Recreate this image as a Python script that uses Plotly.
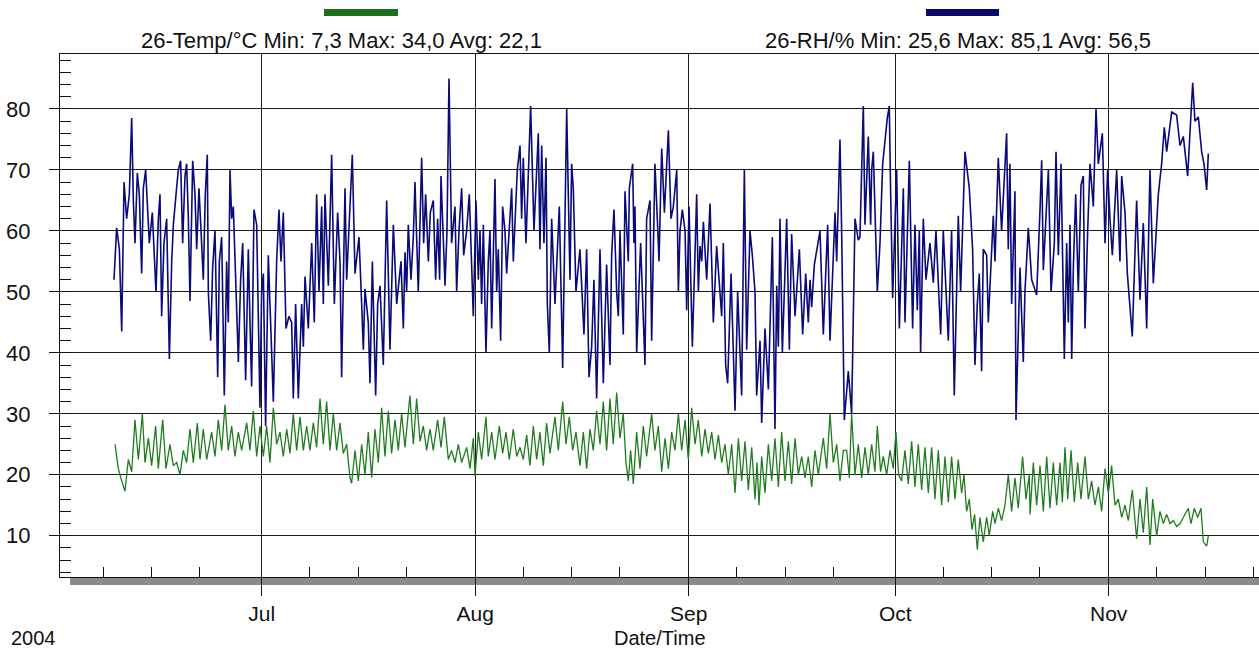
import numpy as np
import pandas as pd
import plotly.graph_objects as go

# ---------------- data ----------------
# time = days since 2004-07-01 00:00
rh_day = [-21.45, -21.06, -20.67, -20.33, -19.99, -19.61, -19.22, -18.88, -18.64, -18.40,
          -18.06, -17.77, -17.43, -17.19, -16.85, -16.56, -16.32, -15.88, -15.59, -15.35,
          -15.01, -14.77, -14.53, -14.19, -13.80, -13.41, -13.07, -12.83, -12.44, -12.11,
          -11.77, -11.48, -11.14, -10.90, -10.65, -10.41, -10.02, -9.69, -9.44, -9.11,
          -8.81, -8.48, -8.19, -7.90, -7.75, -7.41, -7.12, -6.78, -6.39, -6.15,
          -5.81, -5.43, -5.09, -4.85, -4.60, -4.36, -4.12, -3.64, -3.39, -3.06,
          -2.76, -2.33, -1.94, -1.70, -1.46, -1.12, -0.73, -0.25, -0.01, 0.24,
          0.57, 0.96, 1.30, 1.69, 2.17, 2.51, 2.80, 3.14, 3.53,
          3.96, 4.35, 4.59, 4.93, 5.32, 5.80, 6.05, 6.29, 6.77, 7.26, 7.64, 7.98,
          8.32, 8.71, 8.95, 9.19, 9.68, 10.16, 10.55, 11.03, 11.37, 11.61, 12.10,
          12.34, 12.82, 13.16, 13.55, 14.13, 14.52, 14.76, 15.00, 15.48, 15.73,
          16.07, 16.55, 16.84, 17.18, 17.66, 18.15, 18.63, 19.12, 19.60, 20.23,
          20.57, 20.81, 21.05, 21.29, 21.68, 22.02, 22.26, 22.74, 23.23, 23.52,
          23.81, 24.20, 24.49, 24.92, 25.26, 25.55, 25.84, 26.04, 26.62, 26.91,
          27.20, 27.58, 28.07, 28.31, 28.65, 29.04, 29.33, 29.76, 30.15, 30.73,
          31.12, 31.46, 31.70, 31.94, 32.19, 32.57, 32.91, 33.15, 33.40, 33.88,
          34.12, 34.36, 34.70, 34.99, 35.33, 35.57, 36.06, 36.30, 36.54, 37.12,
          37.51, 37.75, 37.99, 38.38, 39.06, 39.54, 40.17, 40.41, 40.66, 40.99,
          41.29, 41.48, 41.77, 42.11, 42.59, 43.22, 43.71, 44.04, 44.29, 44.77,
          45.01, 45.25, 45.64, 46.22, 46.80, 47.19, 47.53, 47.92, 48.25, 48.64,
          49.13, 49.61, 50.09, 50.58, 50.82, 51.16, 51.55, 51.79, 52.03, 52.51,
          52.76, 53.24, 53.39, 53.87, 54.06, 54.21, 54.45, 55.03, 55.42, 55.66,
          55.90, 56.39, 56.63, 57.11, 57.60,
          57.70, 58.09, 58.48, 59.06, 59.44, 59.78, 60.27, 60.51, 60.75, 61.09,
          61.48, 61.72, 62.06, 62.54, 63.17, 63.41, 63.65, 63.90, 64.14, 64.62,
          65.11, 65.59, 66.07, 66.80, 67.04, 67.38, 67.67, 68.16, 68.74, 69.12,
          69.70, 70.09, 70.43, 70.91, 71.25, 71.64, 71.88, 72.37, 72.61, 73.09,
          73.58, 74.16, 74.54, 74.79, 75.03, 75.27, 75.61, 76.24, 76.63, 76.96,
          77.45, 78.08, 78.56, 79.00, 79.38, 79.63, 79.87, 80.26, 81.08, 81.56,
          82.19, 82.53, 83.26, 83.50, 83.98, 84.22, 84.61,
          85.19, 85.67, 86.16, 86.64, 86.88, 87.13, 87.37, 87.61, 88.09, 88.43,
          88.58, 88.82, 89.40, 89.79, 90.18, 90.85, 91.14, 91.34, 91.63, 92.21,
          92.60, 93.18, 93.42, 94.05, 94.53, 94.87, 95.21, 95.50, 95.69, 96.08,
          96.47, 97.05, 97.53, 97.92, 98.60, 98.98, 99.71, 100.19, 100.58, 101.16,
          101.50, 102.13, 102.76, 103.24, 103.58, 103.92, 104.21, 104.55, 104.79, 105.28,
          105.52, 106.24, 106.49, 106.97, 107.45, 108.18, 108.42, 108.66, 108.91, 109.39,
          109.54, 110.12, 110.60, 110.84, 111.33,
          111.82, 112.54, 113.03, 113.27, 113.51, 114.24, 114.63, 115.11, 115.35, 115.69,
          116.08, 116.56, 116.90, 117.14, 117.38, 117.63, 117.87, 118.21, 118.59, 118.98,
          119.32, 119.56, 119.95, 120.29, 120.77, 121.16, 121.50, 122.08, 122.47, 122.85,
          123.19, 123.53, 124.16, 124.64, 124.89, 125.37, 125.71, 126.43, 127.06, 127.55,
          128.03, 128.52, 129.00, 129.48, 130.21, 130.69, 131.08, 131.42, 132.15, 132.87,
          133.36, 133.84, 134.47, 134.81, 135.20, 135.53, 136.02, 136.50, 136.84, 137.23,
          137.47]
rh_val = [52, 60.5, 57, 43.5, 68, 62, 66, 78.5, 65, 58,
          69.5, 66, 53, 67, 70, 62, 58, 63, 55, 50,
          62, 66, 46, 58, 62, 39, 55, 61, 66, 70,
          71.5, 58, 69, 71, 62, 48.5, 71.5, 66, 57, 67,
          60, 52, 66, 72.5, 50, 42, 54, 60, 36, 55,
          59, 33, 55, 45, 70, 62, 64, 48, 38.5, 52,
          58, 35.5, 57, 45, 34.5, 63.5, 61, 31, 50, 53,
          28, 56, 45, 32, 55, 63.5, 55, 63, 44,
          46, 45, 32.5, 48, 32.5, 48, 41, 52.5, 44, 58, 45, 66,
          50, 64, 48, 66, 51, 72.5, 48, 63, 55, 36, 67,
          52, 65, 72.5, 53, 59, 48, 40.5, 50.5, 45, 35,
          55, 33, 48, 51, 38, 65, 40.5, 61, 48, 55,
          44, 56.5, 50, 61, 52, 59, 68, 50, 72, 58,
          66, 55, 63, 65, 52, 62, 52, 69, 51, 60,
          85, 58, 64, 50, 60, 67, 56, 60, 66, 46,
          65, 52, 60, 48, 61, 40, 55, 60, 44, 68.5,
          50, 57, 42, 64, 60, 53, 62, 67, 55, 70,
          74, 62, 72, 58, 80.5, 60, 76, 57, 74, 58,
          72, 48, 40, 62, 48, 64, 37.5, 62, 80, 52,
          71, 67, 50, 57, 43, 57, 36, 41, 52, 32.5,
          57, 35, 54.5, 38, 56, 63.5, 50, 46, 60, 43,
          66.5, 55, 67, 71, 58, 64, 40, 58, 45, 38,
          62, 65, 42, 71, 58,
          55, 73.5, 63, 76.5, 62, 64, 70, 50, 60, 63.5,
          60, 47, 64, 41, 66, 50, 57.5, 55, 61.5, 52,
          64.5, 45, 57.5, 46, 58, 38, 35, 53, 30.5, 50,
          33, 70, 40.5, 60, 56, 50, 33, 42, 28.5, 44,
          34, 59, 27.5, 51, 41, 62, 40, 62, 40.5, 59.5,
          46, 57, 43, 53, 45, 52, 47.5, 54.5, 60, 43,
          61, 42, 63, 55, 75, 60, 29,
          37, 30, 62, 58.5, 59, 72, 80.5, 61, 75.5, 61,
          70, 73, 50, 58, 71, 78.5, 80.5, 66, 49, 70,
          44, 67, 45, 71.5, 44, 61, 47, 60, 40, 62,
          52, 58, 51.5, 60, 43, 60, 42, 60, 33, 62.5,
          50, 73, 67, 57, 38, 48, 53, 37, 57, 56,
          45, 62.5, 55, 72, 60, 76, 57, 71, 48, 66.5,
          29, 54, 38.5, 50, 60.5,
          52, 49.5, 63.5, 71.6, 53.6, 70, 50, 58, 73, 56,
          71, 39, 58, 45, 61, 39, 54, 66, 50, 67.5,
          69, 44, 60, 71, 64, 80, 71, 76, 58, 70,
          62, 56, 70, 55, 69, 63, 53, 42.7, 65, 48.7,
          61.3, 44, 70, 51.4, 66, 71, 77, 73, 79.5, 79,
          74, 75.5, 69, 76, 84.3, 78, 78.7, 73, 71, 66.7,
          72.7]

t_day = [-21.30, -20.82, -20.33, -19.85, -19.37, -18.88, -18.40, -17.91, -17.33, -16.95,
         -16.46, -15.98, -15.40, -15.01, -14.38, -13.90, -13.32, -12.83, -12.35, -11.86,
         -11.38, -10.90, -10.41, -9.93, -9.35, -8.96, -8.48, -7.99, -7.27, -6.78,
         -6.30, -5.81, -5.33, -4.85, -4.36, -3.88, -3.39, -2.91, -2.18, -1.70,
         -1.22, -0.73, -0.25, 0.24, 0.72, 1.20, 1.69, 2.17, 2.66, 3.14,
         3.63, 4.11, 4.59, 5.08, 5.56, 6.05, 6.53, 7.01, 7.50, 7.98,
         8.47, 8.95, 9.43, 9.92, 10.40, 10.89, 11.37, 11.85, 12.34, 12.82,
         13.06, 13.55, 14.03, 14.52, 15.00, 15.48, 15.97, 16.45, 16.94, 17.42,
         17.90, 18.39, 18.87, 19.36, 19.84, 20.32, 20.81, 21.53, 22.02, 22.50,
         22.99, 23.47, 23.95, 24.44, 24.92, 25.55, 26.04, 26.52, 27.10, 27.58,
         28.07, 28.55, 29.04, 29.76, 30.25, 30.73,
         30.98, 31.46, 31.94, 32.57, 32.91, 33.40, 33.88, 34.51, 34.99, 35.48,
         35.96, 36.54, 37.03, 37.51, 37.99, 38.48, 38.96, 39.45, 39.93, 40.41,
         40.90, 41.38, 41.87, 42.59, 43.08, 43.71, 44.19, 44.67, 45.16, 45.64,
         46.22, 46.71, 47.19, 47.67, 48.16, 48.64, 49.13, 49.61, 50.09, 50.58,
         51.06, 51.55, 52.03, 52.51, 52.90, 53.24, 53.58, 53.97, 54.45, 54.93,
         55.42, 55.90, 56.63, 57.11, 57.60,
         58.09, 58.57, 59.06, 59.54, 60.02, 60.51, 60.99, 61.48, 61.96, 62.44,
         62.93, 63.41, 63.90, 64.38, 64.86, 65.35, 65.83, 66.32, 66.80, 67.28,
         67.77, 68.25, 68.74, 69.22, 69.70, 70.19, 70.67, 71.16, 71.64, 71.93,
         72.22, 72.61, 73.09, 73.58, 74.06, 74.54, 75.03, 75.51, 76.00, 76.48,
         76.96, 77.45, 77.93, 78.42, 78.90, 79.38, 79.87, 80.35, 80.84, 81.56,
         82.05, 82.53, 83.01, 83.50, 83.98, 84.47,
         84.95, 85.34, 85.67, 86.16, 86.64, 87.13, 87.61, 88.09, 88.58, 89.06,
         89.40, 89.88, 90.27, 90.76, 91.24, 91.72, 92.11, 92.50, 92.93, 93.42,
         93.90, 94.39, 94.87, 95.35, 95.84, 96.32, 96.81, 97.29, 97.77, 98.26,
         98.74, 99.23, 99.71, 100.19, 100.68, 101.16, 101.65, 101.99, 102.37, 102.76,
         103.15, 103.53, 103.92, 104.31, 104.79, 105.28, 105.66, 106.15, 106.49, 106.97,
         107.45, 107.94, 108.42, 108.91, 109.39, 109.87, 110.50, 110.99, 111.47,
         111.58, 112.06, 112.54, 113.03, 113.51, 114.00, 114.48, 114.96, 115.45, 115.93,
         116.27, 116.66, 117.05, 117.53, 118.01, 118.50, 118.98, 119.56, 120.05, 120.53,
         121.01, 121.50, 121.98, 122.47, 122.95, 123.43, 123.92, 124.40, 124.89, 125.37,
         125.85, 126.43, 127.06, 127.55, 128.03, 128.52, 129.00, 129.39, 129.97, 130.45,
         130.94, 131.42, 131.90, 132.39, 132.87, 133.36, 133.84, 134.57, 134.95, 135.44,
         135.92, 136.41, 136.74, 137.23, 137.47]
t_val = [25, 21, 19, 17.3, 22.5, 20.5, 29, 22.5, 30, 22,
         26, 21.5, 28, 21, 29, 21, 25, 21.5, 22, 20,
         24, 22, 27.5, 22, 28.5, 22.5, 27.5, 22.5, 27, 23,
         29, 24, 31.5, 24, 28, 23, 27, 24, 28.5, 24,
         30.5, 23, 28, 23, 28, 22, 31, 25, 27, 23,
         27.5, 23.5, 30, 24, 29.5, 24, 28, 24, 28.5, 24.5,
         32.5, 25, 32, 24, 30, 24, 28.5, 23.5, 25, 19.5,
         18.6, 24, 19, 25, 20, 27, 19.5, 27.5, 22, 31,
         23, 30.5, 23.5, 29, 24, 30, 24.5, 33, 25, 32.5,
         25.5, 28, 24, 27.5, 24, 29, 24.5, 29.5, 22.5, 24,
         22, 25, 22, 24.5, 21, 26,
         19.8, 27, 22.5, 29.5, 23, 27, 22.5, 28, 23.5, 27,
         22.5, 27.5, 23, 24.5, 22.5, 26.5, 21.5, 28, 22.5, 27,
         21.5, 28.5, 23.5, 29.5, 24, 32, 25, 29.5, 24, 27,
         21.5, 27, 21, 27.5, 24, 30.5, 25, 32, 24, 32.5,
         25, 33.5, 26, 30, 22, 19, 24, 18.5, 27, 21,
         28, 23, 30, 24, 28,
         20.5, 26, 21, 27, 24, 30, 24, 29, 22.5, 31,
         25, 29, 23, 27.5, 23.5, 27, 22.5, 26.5, 22, 25,
         20, 25, 17, 26, 19, 25.5, 17.5, 24.5, 16, 22,
         15, 23, 17, 25, 19, 26, 18, 27, 19, 25.5,
         18.5, 26, 20, 23, 19.5, 23, 18, 24, 20, 26,
         21, 30, 22, 25, 19, 24,
         24, 19.5, 30, 20, 25, 19.5, 24.5, 20, 25, 20.5,
         28, 20.5, 23, 20, 24, 21, 27, 20, 19, 24,
         18.5, 25.5, 18, 25, 17.5, 24.5, 17, 24.5, 16, 24,
         15, 23, 15.5, 23, 16, 22.5, 17, 20, 14, 16,
         11, 13.5, 7.7, 13, 9, 13, 10, 14, 12, 14.5,
         12.5, 15, 20, 14, 19.5, 14.5, 23, 16, 20,
         13.5, 22, 15, 21.5, 14, 23, 14.5, 22, 15, 22,
         15.5, 24.5, 16, 24, 15.5, 22, 16, 23, 16, 19,
         15, 18, 14, 21, 17, 21.5, 15, 16, 13, 15,
         12.5, 17.5, 9.5, 16, 10.5, 18, 8.5, 16, 10, 14,
         12, 13.5, 12, 12.5, 11.5, 12, 13, 14.5, 12, 14.5,
         13, 14.5, 9, 8.3, 10]

month_ticks = ["2004-07-01", "2004-08-01", "2004-09-01", "2004-10-01", "2004-11-01"]
month_labels = ["Jul", "Aug", "Sep", "Oct", "Nov"]
week_ticks = [f"2004-{m:02d}-{d:02d}" for m in range(6, 12) for d in (8, 15, 22)]
y_ticks = [10, 20, 30, 40, 50, 60, 70, 80]

temp_label = "26-Temp/°C Min: 7,3 Max: 34,0 Avg: 22,1"
rh_label = "26-RH/% Min: 25,6 Max: 85,1 Avg: 56,5"
year_label = "2004"
x_title = "Date/Time"

# ---------------- figure ----------------
base = pd.Timestamp("2004-07-01")
rh_t = base + pd.to_timedelta(np.array(rh_day), unit="D")
t_t = base + pd.to_timedelta(np.array(t_day), unit="D")

NAVY = "#0a0a78"
GREEN = "#1f7d1f"
FONT = "Liberation Sans, Arial, sans-serif"

W, H = 1259, 651
L, R, T, B = 60, 0, 54, 74
pw, ph = W - L - R, H - T - B


def px(x):
    return (x - L) / pw


def py(y):
    return (H - B - y) / ph


fig = go.Figure()
fig.add_trace(go.Scatter(x=rh_t, y=rh_val, mode="lines",
                         line=dict(color=NAVY, width=1.6), showlegend=False))
fig.add_trace(go.Scatter(x=t_t, y=t_val, mode="lines",
                         line=dict(color=GREEN, width=1.3), showlegend=False))

x0 = base - pd.Timedelta(days=29.29)
x1 = base + pd.Timedelta(days=144.83)

fig.update_layout(
    width=W, height=H, autosize=False,
    margin=dict(l=L, r=R, t=T, b=B, pad=0),
    paper_bgcolor="white", plot_bgcolor="white",
    font=dict(family=FONT, size=22, color="#111111"),
    showlegend=False,
    xaxis=dict(
        type="date", range=[x0, x1],
        tickmode="array", tickvals=month_ticks, ticktext=month_labels,
        ticks="outside", ticklen=18, tickwidth=1, tickcolor="#111111",
        showgrid=True, gridcolor="#1a1a1a", gridwidth=1,
        showline=True, linecolor="#111111", linewidth=1, mirror=True,
        zeroline=False, ticklabelstandoff=0,
        tickfont=dict(family=FONT, size=21, color="#111111"),
        minor=dict(tickmode="array", tickvals=week_ticks, ticks="inside",
                   ticklen=10, tickwidth=1, tickcolor="#111111", showgrid=False),
    ),
    yaxis=dict(
        range=[3.23, 89.02],
        tickmode="array", tickvals=y_ticks,
        ticks="outside", ticklen=10, tickwidth=1, tickcolor="#111111",
        showgrid=True, gridcolor="#1a1a1a", gridwidth=1,
        showline=True, linecolor="#111111", linewidth=1,
        zeroline=False, ticklabelstandoff=14,
        tickfont=dict(family=FONT, size=22, color="#111111"),
        minor=dict(dtick=2, tick0=0, ticks="inside", ticklen=11, tickwidth=1,
                   tickcolor="#111111", showgrid=False),
    ),
)

# 3D shadow band under the time axis
fig.add_shape(type="rect", xref="paper", yref="paper",
              x0=px(70), x1=1.01, y0=py(585), y1=py(577.5),
              fillcolor="#8a8a8a", line=dict(width=0), layer="below")

# legend swatches
fig.add_shape(type="rect", xref="paper", yref="paper",
              x0=px(324), x1=px(398), y0=py(16), y1=py(9),
              fillcolor="#1b6e1b", line=dict(width=0))
fig.add_shape(type="rect", xref="paper", yref="paper",
              x0=px(926), x1=px(999), y0=py(16), y1=py(9),
              fillcolor="#0a0a6e", line=dict(width=0))

for text, xc, yc in [(temp_label, 341, 40), (rh_label, 958, 40)]:
    fig.add_annotation(text=text, xref="paper", yref="paper",
                       x=px(xc), y=py(yc), xanchor="center", yanchor="middle",
                       showarrow=False,
                       font=dict(family=FONT, size=22, color="#111111"))

# bottom texts: anchored by their bottom edge so they stay inside the page
for text, xc in [(year_label, 33), (x_title, 660)]:
    fig.add_annotation(text=text, xref="paper", yref="paper",
                       x=px(xc), y=py(650), xanchor="center", yanchor="bottom",
                       showarrow=False, borderpad=0,
                       font=dict(family=FONT, size=20, color="#111111"))

fig.write_html("out.html")
